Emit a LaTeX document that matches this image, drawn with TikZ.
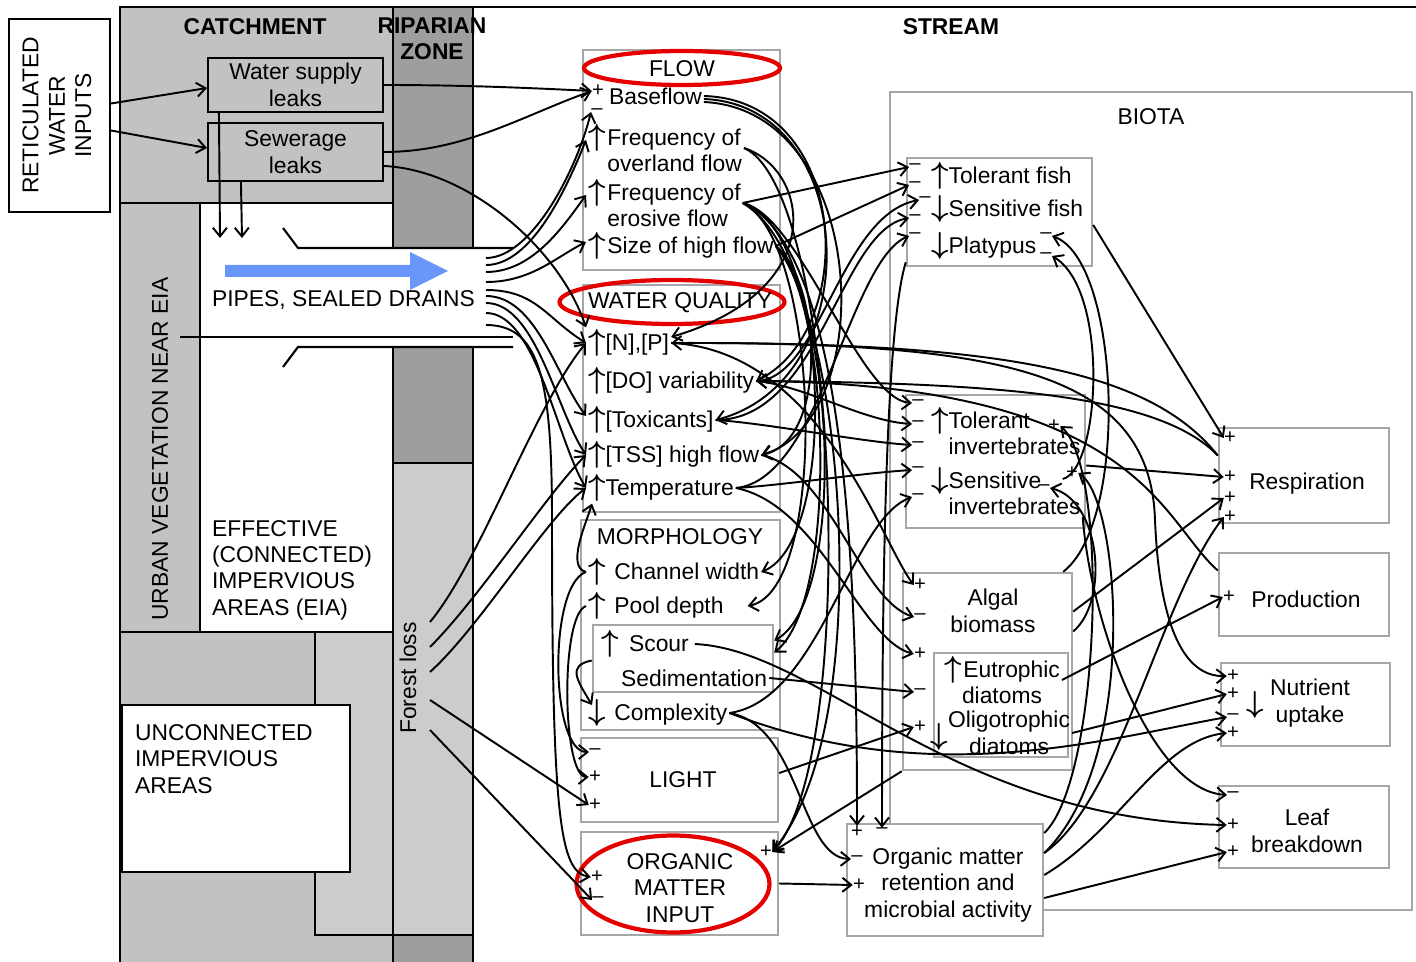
\documentclass[tikz,border=0pt]{standalone}
\usepackage{fontspec}
\setmainfont{Liberation Sans}
\usetikzlibrary{positioning, shapes, calc, arrows.meta}

\newcommand{\lbl}{\fontsize{13}{15}\selectfont}
\newcommand{\upArr}{{\fontsize{16}{15}\selectfont\boldmath$\uparrow$}}
\newcommand{\dnArr}{{\fontsize{16}{15}\selectfont\boldmath$\downarrow$}}
\definecolor{catchGray}{gray}{0.76}
\definecolor{ripGray}{gray}{0.62}
\definecolor{forestGray}{gray}{0.80}
\definecolor{pipeBlue}{RGB}{104,150,250}

\tikzstyle{boxNode}=[draw=gray!70, line width=1.4pt, fill=white, inner sep=0pt]
\tikzstyle{leakNode}=[draw, line width=1.2pt, inner sep=0pt, align=center]
\tikzstyle{itemNode}=[anchor=west, inner sep=1pt, align=left]
\tikzstyle{textNode}=[inner sep=1pt, align=center]
\tikzstyle{signNode}=[inner sep=0pt, font=\fontsize{11.5}{11.5}\selectfont]
\tikzstyle{zoneNode}=[font=\lbl\bfseries, align=center, inner sep=1pt]
\tikzstyle{redRing}=[draw=red!90!black, ellipse, line width=2.4pt, inner sep=0pt]
\tikzstyle{wall}=[line width=1.2pt]
\tikzstyle{effectArrow}=[-{Straight Barb[length=5pt,width=8pt]}, line width=1.1pt]

\begin{document}
\begin{tikzpicture}[x=0.02cm, y=-0.02cm, every node/.style={font=\lbl}]
    \useasboundingbox (0,0) rectangle (1416,962);

    \fill[catchGray] (120,7) rectangle (393,962);
    \fill[ripGray] (393,7) rectangle (473,962);
    \fill[forestGray] (393,463) rectangle (473,935);
    \fill[forestGray] (315,632) rectangle (393,935);
    \fill[white] (200,203) rectangle (393,632);
    \fill[white] (200,248) rectangle (513,347);

    \draw[wall] (120,962) -- (120,7) -- (1416,7);
    \draw[wall] (120,203) -- (393,203);
    \draw[wall] (200,203) -- (200,632);
    \draw[wall] (120,632) -- (393,632);
    \draw[wall] (393,7) -- (393,248);
    \draw[wall] (473,7) -- (473,248);
    \draw[wall] (393,347) -- (393,962);
    \draw[wall] (473,347) -- (473,962);
    \draw[wall] (393,463) -- (473,463);
    \draw[wall] (315,632) -- (315,705);
    \draw[wall] (315,872) -- (315,935) -- (473,935);
    \draw[wall] (283,228) -- (298,248) -- (513,248);
    \draw[wall] (283,367) -- (298,347) -- (513,347);
    \draw[wall] (180,337) -- (513,337);
    \fill[pipeBlue] (225,265) -- (410,265) -- (410,252) -- (448,271) -- (410,290) -- (410,277) -- (225,277) -- cycle;

    \node[zoneNode] (catchT) at (255,27) {CATCHMENT};
    \node[zoneNode] (ripT) at (432,39) {RIPARIAN\\ZONE};
    \node[zoneNode] (streamT) at (951,27) {STREAM};
    \node[textNode, rotate=90] (urbanT) at (160,449) {URBAN VEGETATION NEAR EIA};
    \node[itemNode] (pipeT) at (210,300) {PIPES, SEALED DRAINS};
    \node[itemNode] (eiaT) at (210,570) {EFFECTIVE\\(CONNECTED)\\IMPERVIOUS\\AREAS (EIA)};
    \node[draw, wall, fill=white, minimum width=228*0.02cm, minimum height=167*0.02cm, inner sep=0pt] (uiaBox) at (236,788.5) {};
    \node[itemNode] (uiaT) at (133,759) {UNCONNECTED\\IMPERVIOUS\\AREAS};
    \node[textNode, rotate=90] (forestT) at (408,678) {Forest loss};

    \node[draw, wall, fill=white, minimum width=101*0.02cm, minimum height=193*0.02cm, inner sep=0pt] (retic) at (59.5,115.5)
        {\rotatebox{90}{\begin{tabular}{@{}c@{}}RETICULATED\\WATER\\INPUTS\end{tabular}}};
    \node[leakNode, minimum width=175*0.02cm, minimum height=54*0.02cm] (wsl) at (295.5,85) {Water supply\\leaks};
    \node[leakNode, minimum width=175*0.02cm, minimum height=58*0.02cm] (sewl) at (295.5,152) {Sewerage\\leaks};

    \node[boxNode, minimum width=522*0.02cm, minimum height=818*0.02cm] (biotaBox) at (1151,501) {};
    \node[textNode] (biotaT) at (1151,117) {BIOTA};
    \node[boxNode, minimum width=197*0.02cm, minimum height=220*0.02cm] (flowBox) at (681.5,160) {};
    \node[boxNode, minimum width=197*0.02cm, minimum height=227*0.02cm] (wqBox) at (681.5,398.5) {};
    \node[boxNode, minimum width=199*0.02cm, minimum height=210*0.02cm] (morBox) at (680.5,625) {};
    \node[boxNode, minimum width=180*0.02cm, minimum height=67*0.02cm] (scoBox) at (683,658.5) {};
    \node[boxNode, minimum width=197*0.02cm, minimum height=84*0.02cm] (ligBox) at (679.5,780) {};
    \node[boxNode, minimum width=197*0.02cm, minimum height=103*0.02cm] (omiBox) at (679.5,883.5) {};
    \node[boxNode, minimum width=185*0.02cm, minimum height=108*0.02cm] (fishBox) at (999.5,212) {};
    \node[boxNode, minimum width=179*0.02cm, minimum height=133*0.02cm] (invBox) at (995.5,461.5) {};
    \node[boxNode, minimum width=169*0.02cm, minimum height=197*0.02cm] (algBox) at (987.5,671.5) {};
    \node[boxNode, minimum width=134*0.02cm, minimum height=104*0.02cm] (diaBox) at (1001,705) {};
    \node[boxNode, minimum width=170*0.02cm, minimum height=95*0.02cm] (respBox) at (1304,475.5) {};
    \node[boxNode, minimum width=170*0.02cm, minimum height=83*0.02cm] (prodBox) at (1304,594.5) {};
    \node[boxNode, minimum width=169*0.02cm, minimum height=83*0.02cm] (nutBox) at (1305.5,704.5) {};
    \node[boxNode, minimum width=170*0.02cm, minimum height=82*0.02cm] (leafBox) at (1304,827) {};
    \node[boxNode, minimum width=196*0.02cm, minimum height=112*0.02cm] (omrBox) at (945,880) {};

    \node[redRing, minimum width=196*0.02cm, minimum height=34*0.02cm] (flowRing) at (682,68) {};
    \node[redRing, minimum width=225*0.02cm, minimum height=44*0.02cm] (wqRing) at (672,302) {};
    \node[redRing, minimum width=193*0.02cm, minimum height=97*0.02cm] (omiRing) at (673,884) {};

    \node[textNode] (flowT) at (682,69) {FLOW};
    \node[itemNode] (bflow) at (607,96) {Baseflow};
    \node[signNode] (bfP) at (598,91) {+};
    \node[signNode] (bfM) at (597,112) {--};
    \node[itemNode] (ovl) at (586,148) {\upArr\hspace{1pt}Frequency of\\\hphantom{\upArr\hspace{1pt}}overland flow};
    \node[itemNode] (ero) at (586,203) {\upArr\hspace{1pt}Frequency of\\\hphantom{\upArr\hspace{1pt}}erosive flow};
    \node[itemNode] (shf) at (586,246) {\upArr\hspace{1pt}Size of high flow};

    \node[textNode] (wqT) at (680,303) {WATER QUALITY};
    \node[itemNode] (np) at (586,343) {\upArr[N],[P]};
    \node[itemNode] (dov) at (586,381) {\upArr[DO] variability};
    \node[itemNode] (tox) at (586,420) {\upArr[Toxicants]};
    \node[itemNode] (tss) at (586,455) {\upArr[TSS] high flow};
    \node[itemNode] (tmp) at (586,488) {\upArr Temperature};

    \node[textNode] (morT) at (680,537) {MORPHOLOGY};
    \node[itemNode] (chw) at (586,572) {\upArr\hspace{5pt}Channel width};
    \node[itemNode] (pld) at (586,606) {\upArr\hspace{5pt}Pool depth};
    \node[itemNode] (sco) at (599,644) {\upArr\hspace{6pt}Scour};
    \node[itemNode] (sed) at (619,678) {Sedimentation};
    \node[itemNode] (cpx) at (586,713) {\dnArr\hspace{5pt}Complexity};

    \node[textNode] (ligT) at (683,780) {LIGHT};
    \node[signNode] (lgA) at (595,752) {--};
    \node[signNode] (lgB) at (595,777) {+};
    \node[signNode] (lgC) at (595,805) {+};

    \node[textNode] (omiT) at (680,888) {ORGANIC\\MATTER\\INPUT};
    \node[signNode] (oiA) at (597,877) {+};
    \node[signNode] (oiB) at (598,900) {--};
    \node[signNode] (oiC) at (766,852) {+};

    \node[itemNode] (tfs) at (929,176) {\upArr Tolerant fish};
    \node[itemNode] (sfs) at (929,209) {\dnArr Sensitive fish};
    \node[itemNode] (pla) at (929,246) {\dnArr Platypus};
    \node[signNode] (fA) at (915,167) {--};
    \node[signNode] (fB) at (915,185) {--};
    \node[signNode] (fC) at (925,200) {--};
    \node[signNode] (fD) at (915,218) {--};
    \node[signNode] (fE) at (915,236) {--};
    \node[signNode] (pR1) at (1046,236) {--};
    \node[signNode] (pR2) at (1046,256) {--};

    \node[itemNode] (tiv) at (929,431) {\upArr Tolerant\\\hphantom{\upArr}invertebrates};
    \node[itemNode] (siv) at (929,491) {\dnArr Sensitive\\\hphantom{\dnArr}invertebrates};
    \node[signNode] (iA) at (918,403) {--};
    \node[signNode] (iB) at (918,424) {--};
    \node[signNode] (iC) at (918,445) {--};
    \node[signNode] (iD) at (918,470) {--};
    \node[signNode] (iE) at (918,497) {--};
    \node[signNode] (iR1) at (1054,426) {+};
    \node[signNode] (iR2) at (1072,473) {+};
    \node[signNode] (iR3) at (1044,488) {--};

    \node[textNode] (alg) at (993,611) {Algal\\biomass};
    \node[textNode] (eut) at (1002,680) {\upArr\hspace{1pt}Eutrophic\\diatoms};
    \node[textNode] (oli) at (1009,733) {Oligotrophic\\diatoms};
    \node[textNode, inner sep=0pt] (oliArr) at (939,737) {\dnArr};
    \node[signNode] (aA) at (920,585) {+};
    \node[signNode] (aB) at (920,617) {--};
    \node[signNode] (aC) at (920,654) {+};
    \node[signNode] (aD) at (920,692) {--};
    \node[signNode] (aE) at (920,727) {+};

    \node[textNode] (respT) at (1307,484) {Respiration};
    \node[signNode] (rA) at (1230,438) {+};
    \node[signNode] (rB) at (1230,477) {+};
    \node[signNode] (rC) at (1230,498) {+};
    \node[signNode] (rD) at (1230,517) {+};
    \node[textNode] (prodT) at (1306,599) {Production};
    \node[signNode] (pA) at (1229,597) {+};
    \node[textNode, inner sep=0pt] (nutArr) at (1255,705) {\dnArr};
    \node[textNode] (nutT) at (1310,703) {Nutrient\\uptake};
    \node[signNode] (nA) at (1233,676) {+};
    \node[signNode] (nB) at (1233,694) {+};
    \node[signNode] (nC) at (1233,717) {--};
    \node[signNode] (nD) at (1233,733) {+};
    \node[textNode] (leafT) at (1307,831) {Leaf\\breakdown};
    \node[signNode] (lA) at (1233,795) {--};
    \node[signNode] (lB) at (1233,825) {+};
    \node[signNode] (lC) at (1233,852) {+};

    \node[textNode] (omrT) at (948,885) {Organic matter\\retention and\\microbial activity};
    \node[signNode] (omA) at (857,832) {+};
    \node[signNode] (omB) at (882,831) {--};
    \node[signNode] (omC) at (857,859) {--};
    \node[signNode] (omD) at (859,885) {+};

    \coordinate (drainA) at (220,238);
    \coordinate (drainB) at (242,238);
    \coordinate (pipeA) at (486,258);
    \coordinate (pipeB) at (486,265);
    \coordinate (pipeC) at (486,272);
    \coordinate (pipeD) at (486,282);
    \coordinate (pipeE) at (486,290);
    \coordinate (pipeF) at (486,296);
    \coordinate (pipeG) at (486,303);
    \coordinate (pipeH) at (486,313);
    \coordinate (pipeI) at (486,325);
    \coordinate (forA) at (430,622);
    \coordinate (forB) at (430,647);
    \coordinate (forC) at (430,672);
    \coordinate (forD) at (430,700);
    \coordinate (forE) at (430,730);

    \draw[effectArrow] ($(retic.east)+(0,-12)$) -- ($(wsl.west)+(0,3)$);
    \draw[effectArrow] ($(retic.east)+(0,15)$) -- ($(sewl.west)+(0,-4)$);
    \draw[effectArrow] ($(wsl.south west)+(12,0)$) -- (drainA);
    \draw[effectArrow] ($(sewl.south west)+(34,0)$) -- (drainB);
    \draw[effectArrow] (wsl.east) .. controls +(80,0) and +(-60,-3) .. (bfP.west);
    \draw[effectArrow] (sewl.east) .. controls +(80,0) and +(-70,25) .. (bfP.west);
    \draw[effectArrow] ($(sewl.east)+(0,14)$) .. controls (470,170) and (560,250) .. (np.north west);

    \draw[effectArrow] (pipeA) .. controls +(45,0) and +(-15,60) .. (bfM.west);
    \draw[effectArrow] (pipeB) .. controls +(45,0) and +(-20,50) .. ($(ovl.west)+(0,-8)$);
    \draw[effectArrow] (pipeC) .. controls +(45,0) and +(-25,35) .. ($(ero.west)+(0,-8)$);
    \draw[effectArrow] (pipeD) .. controls +(45,0) and +(-30,15) .. ($(shf.west)+(0,-4)$);
    \draw[effectArrow] (pipeE) .. controls +(50,0) and +(-40,-25) .. (np.west);
    \draw[effectArrow] (pipeF) .. controls +(50,0) and +(-30,-40) .. ($(tox.west)+(0,-4)$);
    \draw[effectArrow] (pipeG) .. controls +(50,0) and +(-30,-45) .. (tss.west);
    \draw[effectArrow] (pipeH) .. controls +(50,0) and +(-30,-50) .. (tmp.west);
    \draw[effectArrow] (pipeI) .. controls (540,325) and (552,380) .. (552,520) .. controls (552,820) and (560,872) .. (oiA.west);

    \draw[effectArrow] (forA) .. controls +(50,-60) and +(-50,60) .. (np.west);
    \draw[effectArrow] (forB) .. controls +(50,-50) and +(-40,40) .. (tss.west);
    \draw[effectArrow] (forC) .. controls +(50,-45) and +(-40,30) .. (tmp.west);
    \draw[effectArrow] (forD) -- (lgC.west);
    \draw[effectArrow] (forE) -- (oiB.west);

    \draw[effectArrow] (chw.west) .. controls +(-20,-5) and +(-6,20) .. ($(tmp.south west)+(6,0)$);
    \draw[effectArrow] (chw.west) .. controls (548,585) and (550,752) .. (lgA.west);
    \draw[effectArrow] (pld.west) .. controls (560,615) and (562,777) .. (lgB.west);
    \draw[effectArrow] ($(scoBox.west)+(0,2)$) .. controls +(-25,5) and +(-15,-25) .. ($(cpx.west)+(6,-8)$);

    \draw[effectArrow] (bflow.east) .. controls (850,100) and (860,330) .. (dov.east);
    \draw[effectArrow] ($(bflow.east)+(0,3)$) .. controls (860,105) and (870,380) .. (tox.east);
    \draw[effectArrow] ($(bflow.east)+(0,6)$) .. controls (870,110) and (880,420) .. (tss.east);
    \draw[effectArrow] (ovl.east) .. controls (810,170) and (830,290) .. ($(np.east)+(0,-6)$);
    \draw[effectArrow] (ovl.east) .. controls (840,190) and (860,760) .. (oiC.east);

    \draw[effectArrow] (ero.east) -- (fA.west);
    \draw[effectArrow] (ero.east) .. controls (830,230) and (840,540) .. (chw.east);
    \draw[effectArrow] (ero.east) .. controls (820,240) and (830,590) .. ($(pld.east)+(22,0)$);
    \draw[effectArrow] (ero.east) .. controls (840,260) and (850,600) .. ($(scoBox.east)+(0,-18)$);
    \draw[effectArrow] (ero.east) .. controls (800,215) and (860,400) .. (iA.west);
    \draw[effectArrow] (ero.east) .. controls (850,250) and (857,600) .. (omA.north);

    \draw[effectArrow] (shf.east) -- (fB.west);
    \draw[effectArrow] (shf.east) .. controls (820,280) and (830,440) .. (tss.east);
    \draw[effectArrow] (shf.east) .. controls (830,300) and (840,600) .. ($(scoBox.east)+(0,-6)$);
    \draw[effectArrow] (shf.east) .. controls (840,320) and (880,720) .. (oiC.east);

    \draw[effectArrow] (dov.east) .. controls (820,380) and (840,215) .. (fC.west);
    \draw[effectArrow] (dov.east) .. controls +(50,5) and +(-50,-3) .. (iB.west);
    \draw[effectArrow] (tox.east) .. controls (820,420) and (840,230) .. (fD.west);
    \draw[effectArrow] (tox.east) .. controls +(50,3) and +(-50,-3) .. (iC.west);
    \draw[effectArrow] (tmp.east) .. controls (820,480) and (850,260) .. (fE.west);
    \draw[effectArrow] (tmp.east) .. controls +(50,-3) and +(-50,3) .. (iD.west);
    \draw[effectArrow] (tmp.east) .. controls (820,505) and (860,640) .. (aC.west);
    \draw[effectArrow] (tss.east) .. controls (830,470) and (860,600) .. (aB.west);
    \draw[effectArrow] (np.east) .. controls (820,350) and (880,540) .. (aA.west);
    \draw[effectArrow] (np.east) .. controls (1000,342) and (1150,370) .. (1155,520) .. controls (1160,640) and (1190,677) .. (nA.west);
    \draw[effectArrow] ($(respBox.west)+(0,-20)$) .. controls (1150,370) and (1000,342) .. (np.east);
    \draw[effectArrow] ($(respBox.west)+(0,-20)$) .. controls (1160,395) and (1000,383) .. (dov.east);
    \draw[effectArrow] ($(prodBox.west)+(0,-24)$) .. controls (1160,520) and (1140,385) .. (dov.east);

    \draw[effectArrow] (sed.east) -- (aD.west);
    \draw[effectArrow] ($(ligBox.east)+(0,-7)$) -- (aE.west);
    \draw[effectArrow] (cpx.east) .. controls (800,725) and (800,858) .. (omC.west);
    \draw[effectArrow] (cpx.east) .. controls (930,790) and (1100,740) .. (nC.west);
    \draw[effectArrow] (cpx.east) .. controls (820,700) and (850,520) .. (iE.west);
    \draw[effectArrow] ($(sco.east)+(4,0)$) .. controls (820,650) and (950,820) .. (lB.west);
    \draw[effectArrow] (omiBox.east) -- (omD.west);
    \draw[effectArrow] (algBox.south west) -- (oiC.east);

    \draw[effectArrow] ($(fishBox.east)+(0,13)$) -- (rA.west);
    \draw[effectArrow] ($(invBox.east)+(0,4)$) -- (rB.west);
    \draw[effectArrow] ($(algBox.east)+(0,-60)$) -- (rC.west);
    \draw[effectArrow] ($(omrBox.east)+(0,-27)$) .. controls (1120,800) and (1160,600) .. (rD.west);
    \draw[effectArrow] (eut.east) -- (pA.west);
    \draw[effectArrow] (oli.east) -- (nB.west);
    \draw[effectArrow] ($(omrBox.east)+(0,-5)$) .. controls (1120,830) and (1160,740) .. (nD.west);
    \draw[effectArrow] ($(omrBox.east)+(0,18)$) -- (lC.west);
    \draw[effectArrow] ($(omrBox.east)+(0,-47)$) .. controls (1100,780) and (1110,470) .. (iR1.east);
    \draw[effectArrow] ($(omrBox.east)+(0,-27)$) .. controls (1140,760) and (1120,500) .. (iR2.east);
    \draw[effectArrow] ($(algBox.east)+(0,-40)$) .. controls (1110,600) and (1100,500) .. (iR3.east);
    \draw[effectArrow] ($(siv.east)+(-20,-12)$) .. controls (1100,470) and (1110,290) .. (pR2.east);
    \draw[effectArrow] ($(algBox.north east)+(-10,0)$) .. controls (1130,520) and (1120,260) .. (pR1.east);
    \draw[effectArrow] (siv.south east) .. controls (1090,620) and (1150,790) .. (lA.west);
    \draw[effectArrow] ($(fishBox.south west)+(0,-5)$) .. controls (885,330) and (882,600) .. (omB.north);

\end{tikzpicture}
\end{document}
